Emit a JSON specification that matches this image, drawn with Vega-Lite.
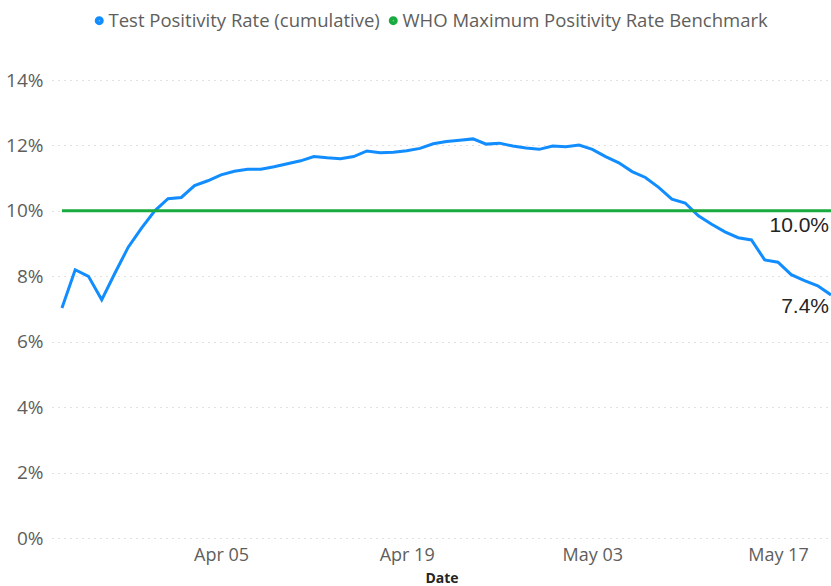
{
  "$schema": "https://vega.github.io/schema/vega-lite/v6.json",
  "autosize": {"type": "none"},
  "width": 779,
  "height": 458,
  "padding": {"left": 52, "top": 80, "right": 0, "bottom": 48},
  "background": "white",
  "config": {"view": {"stroke": null}, "font": "Open Sans"},
  "data": {"values": [
    {"date": "2020-03-24", "Test Positivity Rate (cumulative)": 0.0703, "WHO Maximum Positivity Rate Benchmark": 0.10},
    {"date": "2020-03-25", "Test Positivity Rate (cumulative)": 0.0820, "WHO Maximum Positivity Rate Benchmark": 0.10},
    {"date": "2020-03-26", "Test Positivity Rate (cumulative)": 0.0800, "WHO Maximum Positivity Rate Benchmark": 0.10},
    {"date": "2020-03-27", "Test Positivity Rate (cumulative)": 0.0728, "WHO Maximum Positivity Rate Benchmark": 0.10},
    {"date": "2020-03-28", "Test Positivity Rate (cumulative)": 0.0810, "WHO Maximum Positivity Rate Benchmark": 0.10},
    {"date": "2020-03-29", "Test Positivity Rate (cumulative)": 0.0889, "WHO Maximum Positivity Rate Benchmark": 0.10},
    {"date": "2020-03-30", "Test Positivity Rate (cumulative)": 0.0947, "WHO Maximum Positivity Rate Benchmark": 0.10},
    {"date": "2020-03-31", "Test Positivity Rate (cumulative)": 0.1000, "WHO Maximum Positivity Rate Benchmark": 0.10},
    {"date": "2020-04-01", "Test Positivity Rate (cumulative)": 0.1037, "WHO Maximum Positivity Rate Benchmark": 0.10},
    {"date": "2020-04-02", "Test Positivity Rate (cumulative)": 0.1041, "WHO Maximum Positivity Rate Benchmark": 0.10},
    {"date": "2020-04-03", "Test Positivity Rate (cumulative)": 0.1077, "WHO Maximum Positivity Rate Benchmark": 0.10},
    {"date": "2020-04-04", "Test Positivity Rate (cumulative)": 0.1092, "WHO Maximum Positivity Rate Benchmark": 0.10},
    {"date": "2020-04-05", "Test Positivity Rate (cumulative)": 0.1110, "WHO Maximum Positivity Rate Benchmark": 0.10},
    {"date": "2020-04-06", "Test Positivity Rate (cumulative)": 0.1121, "WHO Maximum Positivity Rate Benchmark": 0.10},
    {"date": "2020-04-07", "Test Positivity Rate (cumulative)": 0.1127, "WHO Maximum Positivity Rate Benchmark": 0.10},
    {"date": "2020-04-08", "Test Positivity Rate (cumulative)": 0.1127, "WHO Maximum Positivity Rate Benchmark": 0.10},
    {"date": "2020-04-09", "Test Positivity Rate (cumulative)": 0.1135, "WHO Maximum Positivity Rate Benchmark": 0.10},
    {"date": "2020-04-10", "Test Positivity Rate (cumulative)": 0.1144, "WHO Maximum Positivity Rate Benchmark": 0.10},
    {"date": "2020-04-11", "Test Positivity Rate (cumulative)": 0.1153, "WHO Maximum Positivity Rate Benchmark": 0.10},
    {"date": "2020-04-12", "Test Positivity Rate (cumulative)": 0.1166, "WHO Maximum Positivity Rate Benchmark": 0.10},
    {"date": "2020-04-13", "Test Positivity Rate (cumulative)": 0.1162, "WHO Maximum Positivity Rate Benchmark": 0.10},
    {"date": "2020-04-14", "Test Positivity Rate (cumulative)": 0.1159, "WHO Maximum Positivity Rate Benchmark": 0.10},
    {"date": "2020-04-15", "Test Positivity Rate (cumulative)": 0.1166, "WHO Maximum Positivity Rate Benchmark": 0.10},
    {"date": "2020-04-16", "Test Positivity Rate (cumulative)": 0.1183, "WHO Maximum Positivity Rate Benchmark": 0.10},
    {"date": "2020-04-17", "Test Positivity Rate (cumulative)": 0.1178, "WHO Maximum Positivity Rate Benchmark": 0.10},
    {"date": "2020-04-18", "Test Positivity Rate (cumulative)": 0.1179, "WHO Maximum Positivity Rate Benchmark": 0.10},
    {"date": "2020-04-19", "Test Positivity Rate (cumulative)": 0.1184, "WHO Maximum Positivity Rate Benchmark": 0.10},
    {"date": "2020-04-20", "Test Positivity Rate (cumulative)": 0.1191, "WHO Maximum Positivity Rate Benchmark": 0.10},
    {"date": "2020-04-21", "Test Positivity Rate (cumulative)": 0.1205, "WHO Maximum Positivity Rate Benchmark": 0.10},
    {"date": "2020-04-22", "Test Positivity Rate (cumulative)": 0.1212, "WHO Maximum Positivity Rate Benchmark": 0.10},
    {"date": "2020-04-23", "Test Positivity Rate (cumulative)": 0.1216, "WHO Maximum Positivity Rate Benchmark": 0.10},
    {"date": "2020-04-24", "Test Positivity Rate (cumulative)": 0.1220, "WHO Maximum Positivity Rate Benchmark": 0.10},
    {"date": "2020-04-25", "Test Positivity Rate (cumulative)": 0.1204, "WHO Maximum Positivity Rate Benchmark": 0.10},
    {"date": "2020-04-26", "Test Positivity Rate (cumulative)": 0.1207, "WHO Maximum Positivity Rate Benchmark": 0.10},
    {"date": "2020-04-27", "Test Positivity Rate (cumulative)": 0.1198, "WHO Maximum Positivity Rate Benchmark": 0.10},
    {"date": "2020-04-28", "Test Positivity Rate (cumulative)": 0.1192, "WHO Maximum Positivity Rate Benchmark": 0.10},
    {"date": "2020-04-29", "Test Positivity Rate (cumulative)": 0.1188, "WHO Maximum Positivity Rate Benchmark": 0.10},
    {"date": "2020-04-30", "Test Positivity Rate (cumulative)": 0.1198, "WHO Maximum Positivity Rate Benchmark": 0.10},
    {"date": "2020-05-01", "Test Positivity Rate (cumulative)": 0.1196, "WHO Maximum Positivity Rate Benchmark": 0.10},
    {"date": "2020-05-02", "Test Positivity Rate (cumulative)": 0.1201, "WHO Maximum Positivity Rate Benchmark": 0.10},
    {"date": "2020-05-03", "Test Positivity Rate (cumulative)": 0.1188, "WHO Maximum Positivity Rate Benchmark": 0.10},
    {"date": "2020-05-04", "Test Positivity Rate (cumulative)": 0.1166, "WHO Maximum Positivity Rate Benchmark": 0.10},
    {"date": "2020-05-05", "Test Positivity Rate (cumulative)": 0.1147, "WHO Maximum Positivity Rate Benchmark": 0.10},
    {"date": "2020-05-06", "Test Positivity Rate (cumulative)": 0.1120, "WHO Maximum Positivity Rate Benchmark": 0.10},
    {"date": "2020-05-07", "Test Positivity Rate (cumulative)": 0.1102, "WHO Maximum Positivity Rate Benchmark": 0.10},
    {"date": "2020-05-08", "Test Positivity Rate (cumulative)": 0.1072, "WHO Maximum Positivity Rate Benchmark": 0.10},
    {"date": "2020-05-09", "Test Positivity Rate (cumulative)": 0.1036, "WHO Maximum Positivity Rate Benchmark": 0.10},
    {"date": "2020-05-10", "Test Positivity Rate (cumulative)": 0.1024, "WHO Maximum Positivity Rate Benchmark": 0.10},
    {"date": "2020-05-11", "Test Positivity Rate (cumulative)": 0.0985, "WHO Maximum Positivity Rate Benchmark": 0.10},
    {"date": "2020-05-12", "Test Positivity Rate (cumulative)": 0.0959, "WHO Maximum Positivity Rate Benchmark": 0.10},
    {"date": "2020-05-13", "Test Positivity Rate (cumulative)": 0.0936, "WHO Maximum Positivity Rate Benchmark": 0.10},
    {"date": "2020-05-14", "Test Positivity Rate (cumulative)": 0.0918, "WHO Maximum Positivity Rate Benchmark": 0.10},
    {"date": "2020-05-15", "Test Positivity Rate (cumulative)": 0.0911, "WHO Maximum Positivity Rate Benchmark": 0.10},
    {"date": "2020-05-16", "Test Positivity Rate (cumulative)": 0.0850, "WHO Maximum Positivity Rate Benchmark": 0.10},
    {"date": "2020-05-17", "Test Positivity Rate (cumulative)": 0.0843, "WHO Maximum Positivity Rate Benchmark": 0.10},
    {"date": "2020-05-18", "Test Positivity Rate (cumulative)": 0.0805, "WHO Maximum Positivity Rate Benchmark": 0.10},
    {"date": "2020-05-19", "Test Positivity Rate (cumulative)": 0.0787, "WHO Maximum Positivity Rate Benchmark": 0.10},
    {"date": "2020-05-20", "Test Positivity Rate (cumulative)": 0.0771, "WHO Maximum Positivity Rate Benchmark": 0.10},
    {"date": "2020-05-21", "Test Positivity Rate (cumulative)": 0.0743, "WHO Maximum Positivity Rate Benchmark": 0.10}
  ]},
  "transform": [
    {"fold": ["Test Positivity Rate (cumulative)", "WHO Maximum Positivity Rate Benchmark"], "as": ["series", "value"]}
  ],
  "encoding": {
    "x": {
      "field": "date", "type": "temporal",
      "scale": {"type": "utc", "domain": [
        {"year": 2020, "month": 3, "date": 23, "hours": 6, "utc": true},
        {"year": 2020, "month": 5, "date": 21, "utc": true}
      ]},
      "axis": {
        "title": "Date", "format": "%b %d", "formatType": "utc",
        "values": [
          {"year": 2020, "month": 4, "date": 5, "utc": true},
          {"year": 2020, "month": 4, "date": 19, "utc": true},
          {"year": 2020, "month": 5, "date": 3, "utc": true},
          {"year": 2020, "month": 5, "date": 17, "utc": true}
        ],
        "grid": false, "domain": false, "ticks": false,
        "labelFontSize": 18, "labelColor": "#605E5C", "labelPadding": 8, "labelFont": "Open Sans",
        "titleFontSize": 14, "titleFontWeight": "bold", "titleColor": "#252423", "titlePadding": 7, "titleFont": "Open Sans"
      }
    },
    "y": {
      "field": "value", "type": "quantitative",
      "scale": {"domain": [0, 0.14], "nice": false},
      "axis": {
        "title": null, "format": ".0%",
        "values": [0, 0.02, 0.04, 0.06, 0.08, 0.10, 0.12, 0.14],
        "domain": false, "ticks": false,
        "grid": true, "gridDash": [1, 5], "gridColor": "#C4C4C4", "gridWidth": 1,
        "labelFontSize": 19, "labelColor": "#605E5C", "labelPadding": 9, "labelFont": "Open Sans"
      }
    }
  },
  "layer": [
    {
      "mark": {"type": "line", "strokeWidth": 3},
      "encoding": {
        "color": {
          "field": "series", "type": "nominal",
          "scale": {
            "domain": ["Test Positivity Rate (cumulative)", "WHO Maximum Positivity Rate Benchmark"],
            "range": ["#118DFF", "#1AAB40"]
          },
          "legend": {
            "title": null, "orient": "none", "direction": "horizontal",
            "legendX": 38, "legendY": -69,
            "symbolType": "circle", "symbolSize": 16, "symbolStrokeWidth": 5,
            "labelFontSize": 18.5, "labelColor": "#605E5C", "labelFont": "Open Sans",
            "columnPadding": 1, "labelOffset": 0, "labelLimit": 400
          }
        }
      }
    },
    {
      "transform": [
        {"filter": "datum.series == 'WHO Maximum Positivity Rate Benchmark' && +datum.date == utc(2020, 4, 21)"}
      ],
      "mark": {"type": "text", "align": "right", "baseline": "middle", "dx": -2, "dy": 15, "fontSize": 21, "font": "Liberation Sans", "color": "#252423"},
      "encoding": {"text": {"field": "value", "type": "quantitative", "format": ".1%"}}
    },
    {
      "transform": [
        {"filter": "datum.series == 'Test Positivity Rate (cumulative)' && +datum.date == utc(2020, 4, 21)"}
      ],
      "mark": {"type": "text", "align": "right", "baseline": "middle", "dx": -2, "dy": 12, "fontSize": 21, "font": "Liberation Sans", "color": "#252423"},
      "encoding": {"text": {"field": "value", "type": "quantitative", "format": ".1%"}}
    }
  ]
}
